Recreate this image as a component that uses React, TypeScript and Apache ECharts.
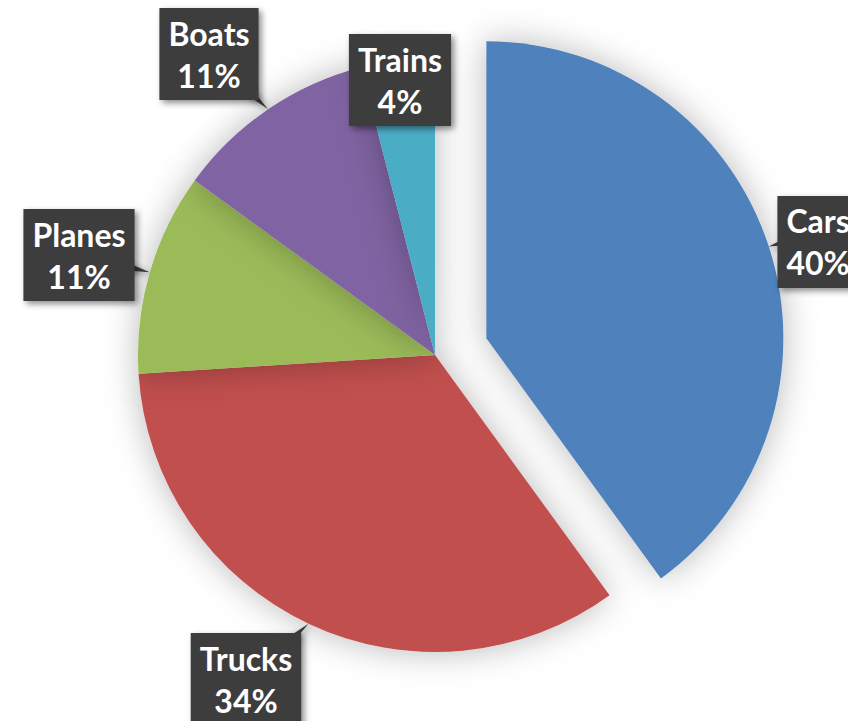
import React, { useEffect, useRef } from "react";
import * as echarts from "echarts";

const categories = ["Cars", "Trucks", "Planes", "Boats", "Trains"];
const values = [40, 34, 11, 11, 4];
const colors = ["#4F81BD", "#C0504D", "#9BBB59", "#8064A2", "#4BACC6"];
// label box centres (layout only)
const labelCenters: [number, number][] = [
  [826, 230],
  [246, 679],
  [79, 255],
  [209, 54],
  [400, 80],
];

const W = 848;
const H = 721;
const CX = 435;
const CY = 355;
const R = 297;
const OFFSET = 54;
const FONT = "Lato, 'Open Sans', sans-serif";

export default function App() {
  const ref = useRef<HTMLDivElement>(null);
  useEffect(() => {
    if (!ref.current) return;
    const chart = echarts.init(ref.current, undefined, { renderer: "svg" });
    const total = values.reduce((a, b) => a + b, 0);
    let acc = 0;
    const pointers: any[] = [];
    values.forEach((v, i) => {
      const mid = ((acc + v / 2) / total) * 2 * Math.PI;
      acc += v;
      const sx = Math.sin(mid);
      const sy = -Math.cos(mid);
      const off = i === 0 ? OFFSET : 0;
      const tip = [CX + (R + off) * sx, CY + (R + off) * sy];
      const [bx, by] = labelCenters[i];
      const dx = tip[0] - bx;
      const dy = tip[1] - by;
      const len = Math.sqrt(dx * dx + dy * dy) || 1;
      const px = (-dy / len) * 12;
      const py = (dx / len) * 12;
      pointers.push({
        type: "polygon",
        z: 1,
        shape: {
          points: [
            [bx + px, by + py],
            [bx - px, by - py],
            tip,
          ],
        },
        style: {
          fill: "#3d3d3d",
          shadowBlur: 6,
          shadowOffsetX: 2,
          shadowOffsetY: 2,
          shadowColor: "rgba(0,0,0,0.45)",
        },
      });
    });

    chart.setOption({
      animation: false,
      backgroundColor: "#ffffff",
      graphic: pointers,
      series: [
        {
          type: "pie",
          center: [CX, CY],
          radius: R,
          startAngle: 90,
          clockwise: true,
          selectedMode: "single",
          selectedOffset: OFFSET,
          avoidLabelOverlap: false,
          z: 2,
          itemStyle: {
            borderWidth: 0,
            shadowBlur: 34,
            shadowColor: "rgba(0,0,0,0.28)",
          },
          emphasis: { disabled: true },
          labelLine: { show: false },
          label: {
            show: true,
            position: "outside",
            formatter: "{b}\n{d}%",
            color: "#ffffff",
            fontFamily: FONT,
            fontWeight: "bold",
            fontSize: 32,
            lineHeight: 42,
            align: "center",
            backgroundColor: "#3c3c3c",
            padding: [4, 9, 4, 9],
            shadowBlur: 6,
            shadowOffsetX: 3,
            shadowOffsetY: 3,
            shadowColor: "rgba(0,0,0,0.45)",
          },
          labelLayout: (params: any) => {
            const c = labelCenters[params.dataIndex];
            return {
              x: c[0],
              y: c[1],
              align: "center",
              verticalAlign: "middle",
            };
          },
          data: categories.map((name, i) => ({
            name,
            value: values[i],
            selected: i === 0,
            itemStyle: { color: colors[i] },
          })),
        },
      ],
    });
    return () => chart.dispose();
  }, []);
  return (
    <div
      ref={ref}
      style={{ position: "fixed", left: 0, top: 0, width: W, height: H }}
    />
  );
}
